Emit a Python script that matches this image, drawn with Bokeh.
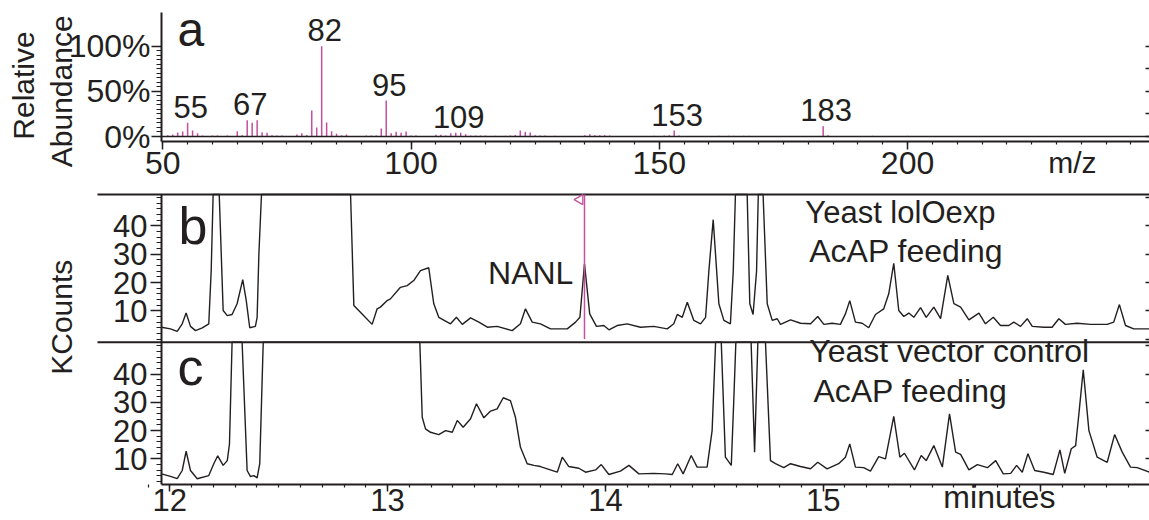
import math
from bokeh.plotting import figure
from bokeh.models import (Range1d, LinearAxis, FixedTicker, Label, CustomJSTickFormatter)
from bokeh.embed import file_html
from bokeh.resources import INLINE
from bokeh.core.properties import value

FONT = "Liberation Sans"
INK = "#231f20"
MAGENTA = "#c4509e"

# ---------------- panel a : mass spectrum ----------------
mz = [51, 52, 53, 54, 55, 56, 57, 58, 60, 61, 63, 65, 66, 67, 68, 69, 70, 71, 72, 73, 74,
      77, 78, 79, 80, 81, 82, 83, 84, 85, 86, 87, 91, 92, 93, 94, 95, 96, 97, 98, 99,
      100, 101, 105, 106, 107, 108, 109, 110, 111, 112, 113, 114, 115, 117, 119, 120,
      121, 122, 123, 124, 125, 126, 127, 129, 135, 136, 137, 138, 139, 140, 149, 151,
      152, 153, 154, 162, 164, 165, 167, 168, 183, 184, 193, 200]
abundance = [1.5, 2.2, 4.4, 5.5, 15.1, 6.6, 3.7, 1.1, 1.0, 1.0, 1.0, 5.9, 1.5, 18.1, 15.1, 18.1,
             4.8, 4.1, 1.5, 1.0, 1.0, 2.2, 3.7, 1.8, 28.8, 10.0, 100.0, 15.5, 5.9, 3.0, 1.5,
             2.2, 1.0, 1.0, 1.0, 8.9, 39.9, 3.7, 5.2, 4.1, 5.5, 1.0, 1.0, 2.0, 2.0, 1.0, 3.7,
             4.1, 4.1, 2.5, 1.0, 1.0, 1.0, 1.0, 0.8, 0.8, 1.0, 1.8, 6.6, 5.2, 4.4, 1.5, 1.0,
             1.0, 0.8, 1.5, 2.5, 1.5, 1.5, 1.5, 1.0, 0.8, 1.0, 1.5, 6.6, 1.0, 0.8, 0.8, 0.8,
             0.8, 0.8, 11.4, 1.5, 0.8, 0.8]
peak_labels = ["55", "67", "82", "95", "109", "153", "183"]
mz_ticks = [50, 100, 150, 200]
pct_ticks = [0, 50, 100]

# ---------------- panels b and c : chromatograms (KCounts vs minutes) ----------------
B_TOP = 51.10   # panel b upper limit (off-scale peaks are drawn to it)
C_TOP = 51.24   # panel c upper limit
b_time = [11.962, 12.003, 12.034, 12.057, 12.075, 12.095, 12.118, 12.149, 12.179, 12.190,
          12.199, 12.227, 12.245, 12.264, 12.286, 12.309, 12.335, 12.351, 12.367, 12.393,
          12.401, 12.409, 12.421, 12.830, 12.845, 12.883, 12.929, 12.952, 12.967, 12.998,
          13.013, 13.059, 13.090, 13.120, 13.151, 13.189, 13.212, 13.235, 13.289, 13.316,
          13.343, 13.381, 13.419, 13.458, 13.503, 13.572, 13.610, 13.633, 13.664, 13.702,
          13.748, 13.825, 13.863, 13.883, 13.904, 13.928, 13.959, 13.993, 14.016, 14.054,
          14.100, 14.161, 14.222, 14.284, 14.314, 14.330, 14.353, 14.376, 14.406, 14.437,
          14.460, 14.475, 14.495, 14.521, 14.544, 14.574, 14.587, 14.597, 14.651, 14.663,
          14.678, 14.694, 14.702, 14.724, 14.743, 14.766, 14.789, 14.804, 14.850, 14.896,
          14.942, 14.975, 15.003, 15.041, 15.079, 15.102, 15.122, 15.148, 15.179, 15.209,
          15.240, 15.278, 15.301, 15.324, 15.347, 15.370, 15.393, 15.416, 15.447, 15.473,
          15.508, 15.539, 15.572, 15.600, 15.631, 15.669, 15.715, 15.745, 15.781, 15.814,
          15.852, 15.875, 15.906, 15.937, 15.960, 16.013, 16.051, 16.082, 16.112, 16.166,
          16.227, 16.304, 16.334, 16.360, 16.388, 16.426, 16.498]
b_kcounts = [4.2, 3.6, 2.7, 5.4, 9.2, 4.5, 3.0, 4.0, 5.4, 24.0,
             B_TOP, B_TOP, 10.1, 8.3, 8.7, 12.5, 21.0, 13.6, 4.0, 4.5,
             7.7, 30.0, B_TOP, B_TOP, 11.9, 8.9, 5.2, 10.7, 11.3, 13.6,
             14.2, 18.3, 18.9, 20.7, 24.2, 25.2, 12.5, 7.7, 5.4, 7.7,
             5.2, 7.5, 6.0, 4.2, 4.5, 3.0, 5.4, 10.7, 6.0, 5.4,
             3.6, 3.6, 6.0, 7.7, 26.6, 8.9, 4.5, 4.8, 3.3, 4.8,
             5.4, 4.2, 4.5, 3.6, 5.4, 8.7, 7.7, 13.0, 6.6, 5.4,
             7.7, 24.0, 42.2, 12.5, 6.6, 5.4, 24.0, B_TOP, B_TOP, 12.5,
             8.7, 24.0, B_TOP, B_TOP, 12.5, 6.6, 7.2, 5.2, 6.8, 5.6,
             5.4, 8.0, 5.2, 5.6, 5.2, 8.9, 13.6, 6.0, 5.6, 4.0,
             8.7, 10.7, 16.0, 26.8, 10.1, 8.0, 9.2, 7.7, 11.1, 7.7,
             11.3, 7.2, 22.5, 12.5, 11.3, 6.8, 9.2, 5.4, 7.7, 4.8,
             4.8, 6.0, 4.5, 7.2, 4.5, 4.2, 4.2, 7.2, 5.2, 5.6,
             5.2, 5.2, 6.0, 12.2, 4.8, 3.6, 3.6]

c_time = [11.962, 12.003, 12.034, 12.057, 12.075, 12.095, 12.126, 12.179, 12.202, 12.220,
          12.245, 12.264, 12.274, 12.286, 12.332, 12.355, 12.370, 12.386, 12.401, 12.413,
          12.429, 13.148, 13.159, 13.174, 13.197, 13.235, 13.266, 13.297, 13.320, 13.347,
          13.381, 13.408, 13.442, 13.473, 13.503, 13.531, 13.564, 13.587, 13.610, 13.641,
          13.672, 13.702, 13.733, 13.779, 13.802, 13.832, 13.878, 13.909, 13.955, 13.981,
          14.016, 14.069, 14.108, 14.154, 14.222, 14.276, 14.307, 14.332, 14.357, 14.394,
          14.421, 14.467, 14.490, 14.506, 14.532, 14.551, 14.578, 14.590, 14.599, 14.669,
          14.685, 14.700, 14.735, 14.758, 14.781, 14.819, 14.850, 14.896, 14.942, 14.975,
          15.018, 15.071, 15.102, 15.122, 15.148, 15.186, 15.217, 15.255, 15.286, 15.324,
          15.352, 15.373, 15.419, 15.450, 15.473, 15.508, 15.547, 15.580, 15.608, 15.631,
          15.669, 15.708, 15.754, 15.792, 15.827, 15.861, 15.888, 15.914, 15.940, 15.971,
          16.013, 16.056, 16.087, 16.109, 16.139, 16.159, 16.174, 16.194, 16.220, 16.258,
          16.304, 16.338, 16.373, 16.411, 16.442, 16.498]
c_kcounts = [4.7, 3.8, 3.0, 5.9, 12.7, 5.9, 3.0, 4.1, 8.3, 11.1,
             7.7, 9.4, 15.3, C_TOP, C_TOP, 5.9, 3.8, 4.1, 3.3, 8.3,
             C_TOP, C_TOP, 24.7, 20.6, 19.4, 18.6, 20.0, 19.4, 23.6, 21.2,
             24.2, 29.5, 24.5, 26.9, 27.7, 31.6, 30.6, 24.7, 14.1, 8.3,
             7.7, 7.3, 6.5, 5.3, 10.6, 7.3, 6.7, 5.3, 6.1, 8.0,
             4.5, 5.7, 7.7, 4.7, 4.9, 4.7, 4.5, 8.3, 4.7, 11.2,
             7.1, 7.1, 20.0, C_TOP, C_TOP, 10.6, 7.7, 31.8, C_TOP, C_TOP,
             12.4, C_TOP, C_TOP, 9.4, 8.3, 6.9, 8.3, 7.3, 6.5, 8.8,
             6.5, 8.3, 10.6, 15.3, 7.1, 6.9, 5.7, 10.8, 10.0, 25.0,
             10.6, 12.0, 6.1, 11.2, 9.4, 14.7, 7.1, 25.9, 12.4, 11.6,
             6.1, 8.0, 6.9, 9.4, 4.7, 4.9, 7.7, 5.3, 11.8, 5.9,
             5.3, 4.5, 13.2, 4.9, 13.6, 14.7, 25.9, 41.5, 20.0, 10.6,
             8.8, 18.6, 12.4, 7.1, 6.9, 5.3]
nanl_rt = 13.904
kc_ticks = [10, 20, 30, 40]
time_ticks = [12, 13, 14, 15, 16]
time_tick_labels = ["12", "13", "14", "15", ""]

# ---------------- one canvas, several coordinate systems ----------------
T0, T1 = 11.9619, 16.4982          # time span of the chromatogram axes
MZ0, MZ1 = 49.74, 248.73           # m/z span of the spectrum axis
A_BOT, A_TOP = -5.2, 137.65        # spectrum y-axis span (%)
C_BOT = 0.954
B_BOT = -1.10

p = figure(width=1149, height=520, output_backend="svg", toolbar_location=None,
           x_axis_type=None, y_axis_type=None,
           x_range=Range1d(11.2227, 16.4982), y_range=Range1d(-11.767, 171.98),
           min_border=0, min_border_left=0, min_border_right=0, min_border_top=0,
           min_border_bottom=0, outline_line_color=None, background_fill_color="white")
p.extra_x_ranges = {"mz": Range1d(17.311, 248.73)}
p.extra_y_ranges = {"a": Range1d(-425.25, 150.61), "b": Range1d(-64.10, 119.65)}


def make_axis(side, ticks, minor, loc, bounds, xr="default", yr="default", tick_out=0,
              minor_out=0, tick_in=0, standoff=0, size="31px", fmt=None, line=True,
              overrides=None):
    ax = LinearAxis(ticker=FixedTicker(ticks=ticks, minor_ticks=minor),
                    x_range_name=xr, y_range_name=yr, fixed_location=loc, bounds=bounds)
    if fmt is not None:
        ax.formatter = fmt
    if overrides is not None:
        ax.major_label_overrides = overrides
    ax.axis_line_color = INK if line else None
    ax.axis_line_width = 2
    ax.major_tick_line_color = INK
    ax.major_tick_line_width = 1.5
    ax.minor_tick_line_color = INK
    ax.minor_tick_line_width = 1.2
    ax.major_tick_out = tick_out
    ax.major_tick_in = tick_in
    ax.minor_tick_out = minor_out
    ax.minor_tick_in = 0
    ax.major_label_standoff = standoff
    ax.major_label_text_font = FONT
    ax.major_label_text_font_size = size
    ax.major_label_text_color = INK
    p.add_layout(ax, side)
    return ax


blank = CustomJSTickFormatter(code="return '';")

# panel a axes
make_axis("below", mz_ticks, list(range(50, 250, 5)), A_BOT, (MZ0, MZ1), xr="mz", yr="a",
          tick_out=8, minor_out=3, standoff=3, size="32px")
make_axis("left", pct_ticks, list(range(0, 101, 5)), MZ0, (A_BOT, A_TOP), xr="mz", yr="a",
          tick_out=10, minor_out=5, standoff=1, size="32px",
          fmt=CustomJSTickFormatter(code="return tick + '%';"))
make_axis("right", [0, 25, 50, 75, 100], [], MZ1, (0, 100), xr="mz", yr="a",
          tick_in=4, fmt=blank, line=False)

# panel b axes
make_axis("left", kc_ticks, list(range(0, 51, 2)), T0, (B_BOT, B_TOP), yr="b",
          tick_out=11, minor_out=5, standoff=3)
make_axis("right", [0, 10, 20, 30, 40, 50], [], T1, (B_BOT, B_TOP), yr="b",
          tick_in=4, fmt=blank, line=False)

# panel c axes
make_axis("below", time_ticks, [round(11.9 + 0.1 * i, 1) for i in range(47)], C_BOT, (T0, T1),
          tick_out=7, minor_out=3, standoff=-2, size="31px",
          overrides=dict(zip(time_ticks, time_tick_labels)))
make_axis("left", kc_ticks, list(range(2, 51, 2)), T0, (C_BOT, C_TOP),
          tick_out=11, minor_out=5, standoff=3)
make_axis("right", [10, 20, 30, 40, 50], [], T1, (C_BOT, C_TOP),
          tick_in=4, fmt=blank, line=False)

# ---------------- marks ----------------
p.segment(x0=mz, y0=[0] * len(mz), x1=mz, y1=abundance, x_range_name="mz", y_range_name="a",
          line_color=MAGENTA, line_width=1.5)
p.segment(x0=[MZ0], y0=[0], x1=[MZ1], y1=[0], x_range_name="mz", y_range_name="a",
          line_color=INK, line_width=1.5)

ab_of = dict(zip(mz, abundance))
p.text(x=[float(t) for t in peak_labels], y=[ab_of[int(t)] + 17.4 for t in peak_labels],
       text=peak_labels, x_range_name="mz", y_range_name="a", x_offset=3,
       text_align="center", text_baseline="middle", text_font=value(FONT),
       text_font_size=value("31px"), text_color=INK)

# chromatogram panel borders (top of b, divider b/c) reaching left of the axis
p.segment(x0=[11.668], y0=[B_TOP], x1=[T1], y1=[B_TOP], y_range_name="b",
          line_color=INK, line_width=2)
p.segment(x0=[11.668], y0=[C_TOP], x1=[T1], y1=[C_TOP], line_color=INK, line_width=2)

p.line(b_time, b_kcounts, y_range_name="b", line_color=INK, line_width=1.4)
p.line(c_time, c_kcounts, line_color=INK, line_width=1.4)

# NANL retention-time marker
p.segment(x0=[nanl_rt], y0=[0], x1=[nanl_rt], y1=[B_TOP], y_range_name="b",
          line_color=MAGENTA, line_width=1.5)
p.scatter(x=[nanl_rt - 0.021], y=[49.3], y_range_name="b", marker="triangle", size=10,
          angle=math.pi / 2, fill_color=None, line_color=MAGENTA, line_width=1.3)


def lab(x, y, text, size="32px", align="left", angle=0.0, xr="default", yr="default"):
    p.add_layout(Label(x=x, y=y, text=text, text_font=FONT, text_font_size=size,
                       text_color=INK, text_align=align, text_baseline="middle",
                       angle=angle, x_range_name=xr, y_range_name=yr))


lab(52.96, 118.5, "a", size="48px", xr="mz", yr="a")
lab(22.0, 56.5, "Relative", size="30px", align="center", angle=math.pi / 2, xr="mz", yr="a")
lab(29.58, 50.05, "Abundance", size="30px", align="center", angle=math.pi / 2, xr="mz", yr="a")
lab(233.2, -28.3, "m/z", size="30px", align="center", xr="mz", yr="a")

lab(12.040, 39.8, "b", size="52px", yr="b")
lab(14.918, 44.7, "Yeast lolOexp", size="31px", yr="b")
lab(14.936, 31.1, "AcAP feeding", yr="b")
lab(13.853, 23.5, "NANL", align="right", yr="b")

lab(12.035, 42.3, "c", size="52px")
lab(14.936, 48.1, "Yeast vector control")
lab(14.955, 34.0, "AcAP feeding")
lab(11.5018, 60.07, "KCounts", size="30px", align="center", angle=math.pi / 2)
lab(15.809, -3.6, "minutes", align="center")

open("out.html", "w").write(file_html(p, INLINE))
